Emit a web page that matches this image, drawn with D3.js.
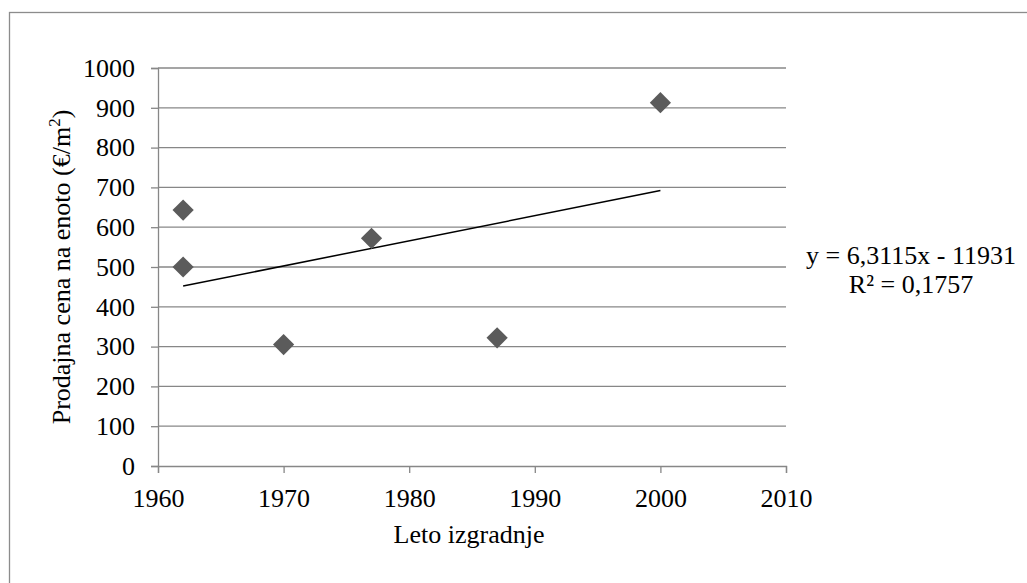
<!DOCTYPE html>
<html>
<head>
<meta charset="utf-8">
<script src="https://cdn.jsdelivr.net/npm/d3@7"></script>
<style>
  body { margin: 0; background: #fff; }
  svg text { font-family: "Liberation Serif", "Times New Roman", serif; fill: #000; }
</style>
</head>
<body>
<div id="chart"></div>
<script>
// Data
const years = [1962, 1962, 1970, 1977, 1987, 2000];
const prices = [643, 500, 305, 572, 322, 913];
const xTicks = [1960, 1970, 1980, 1990, 2000, 2010];
const yTicks = [0, 100, 200, 300, 400, 500, 600, 700, 800, 900, 1000];
const trendSlope = 6.3115;
const trendIntercept = -11931;
const trendRange = [1962, 2000];
const equationLines = ["y = 6,3115x - 11931", "R² = 0,1757"];

const width = 1027;
const height = 583;
const margin = { left: 158, right: 241, top: 68, bottom: 117 };
const fontSize = "26px";

const svg = d3.select("#chart")
    .append("svg")
    .attr("width", width)
    .attr("height", height);

// chart area border (only left/top edges visible in frame)
svg.append("rect")
    .attr("x", 9.5)
    .attr("y", 12.5)
    .attr("width", 1100)
    .attr("height", 700)
    .attr("fill", "none")
    .attr("stroke", "#8c8c8c")
    .attr("stroke-width", 1.3);

const x = d3.scaleLinear()
    .domain([1960, 2010])
    .range([margin.left, width - margin.right]);

const y = d3.scaleLinear()
    .domain([0, 1000])
    .range([height - margin.bottom, margin.top]);

// Gridlines
svg.append("g")
    .selectAll("line")
    .data(yTicks.filter(d => d > 0))
    .join("line")
    .attr("x1", x(1960))
    .attr("x2", x(2010))
    .attr("y1", d => y(d))
    .attr("y2", d => y(d))
    .attr("stroke", "#878787")
    .attr("stroke-width", 1.3);

// Y axis
const yAxis = svg.append("g")
    .attr("transform", `translate(${x(1960)},0)`)
    .call(d3.axisLeft(y).tickValues(yTicks).tickSize(7).tickPadding(16).tickFormat(d3.format("d")));

// X axis
const xAxis = svg.append("g")
    .attr("transform", `translate(0,${y(0)})`)
    .call(d3.axisBottom(x).tickValues(xTicks).tickSize(7).tickPadding(16).tickFormat(d3.format("d")));

[yAxis, xAxis].forEach(ax => {
    ax.select(".domain").attr("stroke", "#878787").attr("stroke-width", 1.3);
    ax.selectAll(".tick line").attr("stroke", "#878787").attr("stroke-width", 1.3);
    ax.selectAll(".tick text")
        .style("font-family", "'Liberation Serif', 'Times New Roman', serif")
        .style("font-size", fontSize)
        .attr("fill", "#000");
});

// Trendline
svg.append("line")
    .attr("x1", x(trendRange[0]))
    .attr("y1", y(trendSlope * trendRange[0] + trendIntercept))
    .attr("x2", x(trendRange[1]))
    .attr("y2", y(trendSlope * trendRange[1] + trendIntercept))
    .attr("stroke", "#000")
    .attr("stroke-width", 1.5);

// Points (diamonds)
const diamond = d3.symbol().type(d3.symbolSquare).size(225);
svg.append("g")
    .selectAll("path")
    .data(years.map((d, i) => ({ year: d, price: prices[i] })))
    .join("path")
    .attr("d", diamond)
    .attr("transform", d => `translate(${x(d.year)},${y(d.price)}) rotate(45)`)
    .attr("fill", "#5b5b5b");

// Equation label
svg.append("g")
    .selectAll("text")
    .data(equationLines)
    .join("text")
    .attr("x", 911)
    .attr("y", (d, i) => 264 + i * 29)
    .attr("text-anchor", "middle")
    .style("font-size", fontSize)
    .text(d => d);

// Axis titles
svg.append("text")
    .attr("x", 469)
    .attr("y", 543)
    .attr("text-anchor", "middle")
    .style("font-size", fontSize)
    .text("Leto izgradnje");

svg.append("text")
    .attr("transform", `translate(70,${y(500)}) rotate(-90)`)
    .attr("text-anchor", "middle")
    .style("font-size", fontSize)
    .html("Prodajna cena na enoto (€/m<tspan dy='-10' font-size='17px'>2</tspan><tspan dy='10'>)</tspan>");
</script>
</body>
</html>
